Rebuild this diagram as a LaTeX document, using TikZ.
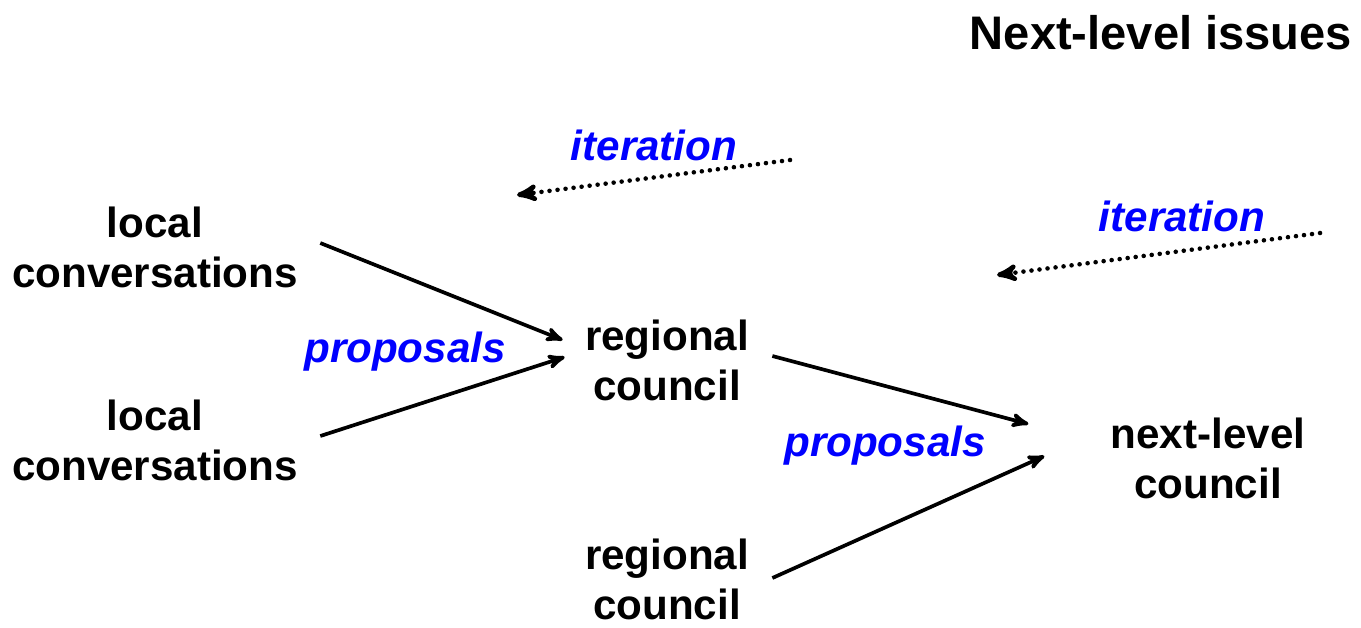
\documentclass[tikz,border=0pt]{standalone}
\usepackage{fontspec}
\setmainfont{Liberation Sans}
\usepackage{tikz}
\usetikzlibrary{arrows}
\tikzstyle{party}=[align=center,font=\fontsize{24}{28.5}\selectfont\bfseries,inner sep=0pt]
\tikzstyle{flow}=[text=blue,font=\fontsize{24}{28.5}\selectfont\bfseries\itshape,inner sep=0pt]
\tikzstyle{feed}=[line width=2.6pt,dash pattern=on 0pt off 4.6pt,line cap=round]

\begin{document}
\begin{tikzpicture}[x=0.02cm,y=-0.02cm,>=stealth']
        \useasboundingbox (0,0) rectangle (1361,627);
        \node at (1161,33) [party,font=\fontsize{26.8}{30}\selectfont\bfseries] (T) {Next-level issues};
        \node at ( 155,247) [party] (L1) {local\\conversations};
        \node at ( 155,440) [party] (L2) {local\\conversations};
        \node at ( 667,360) [party] (R1) {regional\\council};
        \node at ( 667,579) [party] (R2) {regional\\council};
        \node at (1208,458) [party] (N) {next-level\\council};
        \node at ( 405,352) [flow] (P1) {proposals};
        \node at ( 885,446) [flow] (P2) {proposals};
        \node at ( 654,145) [flow] (I1) {iteration};
        \node at (1182,216) [flow] (I2) {iteration};
        \coordinate (I1s) at ( 790,160);
        \coordinate (I1e) at ( 517,195);
        \coordinate (I2s) at (1320,233);
        \coordinate (I2e) at ( 997,275);
        \draw [->,line width=2.1pt] ([shift={(22,-4)}]L1.east) to ([shift={(-22,-20)}]R1.west);
        \draw [->,line width=2.1pt] ([shift={(22,-4)}]L2.east) to ([shift={(-20,-3)}]R1.west);
        \draw [->,line width=2.1pt] ([shift={(23,-4)}]R1.east) to ([shift={(-82,-34)}]N.west);
        \draw [->,line width=2.1pt] ([shift={(23,-1)}]R2.east) to ([shift={(-66,-2)}]N.west);
        \draw [feed,->] (I1s) to (I1e);
        \draw [feed,->] (I2s) to (I2e);
      \end{tikzpicture}
\end{document}
